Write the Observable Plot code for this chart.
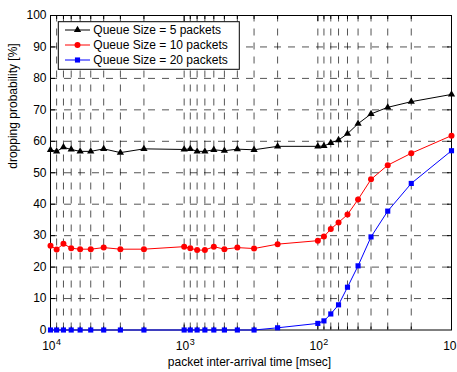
<!DOCTYPE html>
<html><head><meta charset="utf-8">
<script src="https://cdn.jsdelivr.net/npm/d3@7"></script>
<script src="https://cdn.jsdelivr.net/npm/@observablehq/plot@0.6"></script>
<style>body{margin:0;background:#fff}</style>
</head><body><div id="chart"></div>
<script>
// packet inter-arrival time [msec] (axis runs from 10^4 down to 10^1)
const interArrival = [10000,9000,8000,7000,6000,5000,4000,3000,2000,1000,900,800,700,600,500,400,300,200,100,90,80,70,60,50,40,30,20,10];
// dropping probability [%]
const q5  = [57.3,56.8,58.1,57.4,56.8,56.8,57.6,56.4,57.6,57.4,57.6,56.8,56.8,57.3,57.0,57.5,57.3,58.4,58.4,58.5,59.5,60.4,62.4,65.6,68.7,70.8,72.6,74.9];
const q10 = [26.8,25.6,27.4,26.0,25.7,25.7,26.2,25.7,25.7,26.5,26.0,25.4,25.4,26.5,25.7,26.2,25.9,27.3,28.4,29.7,32.1,34.2,36.7,41.5,47.9,52.4,56.2,61.8];
const q20 = [0,0,0,0,0,0,0,0,0,0,0,0,0,0,0,0,0,0.7,2.1,2.9,5.1,8.0,13.6,20.4,29.6,37.8,46.6,57.0];

const seriesNames = ["Queue Size = 5 packets", "Queue Size = 10 packets", "Queue Size = 20 packets"];
const seriesColors = ["#000000", "#ff0000", "#0000ff"];
const seriesSymbols = ["triangle", "circle", "square"];
const seriesR = [2.7, 3, 2.9];

const xMajor = [10000, 1000, 100, 10];
const xExponents = ["4", "3", "2", "1"];
const xMinor = [9000,8000,7000,6000,5000,4000,3000,2000,900,800,700,600,500,400,300,200,90,80,70,60,50,40,30,20];
const xGrid = [9000,8000,7000,6000,5000,4000,3000,2000,1000,900,800,700,600,500,400,300,200,100,90,80,70,60,50,40,30,20];
const yTicks = [0,10,20,30,40,50,60,70,80,90,100];
const yGrid = [10,20,30,40,50,60,70,80,90];
const yDomain = [0, 100];
const xDomain = [10000, 10];

const xTitle = "packet inter-arrival time [msec]";
const yTitle = "dropping probability [%]";

const seriesValues = [q5, q10, q20];
const rows = [];
seriesValues.forEach((vals, s) => vals.forEach((v, i) => rows.push({x: interArrival[i], y: v, series: seriesNames[s]})));

const margin = {left: 50, right: 6, top: 15, bottom: 42.5};
const gridStyle = {stroke: "#000", strokeOpacity: 0.85, strokeWidth: 0.8, strokeDasharray: "7,7"};
const noText = () => "";

const marks = [
  Plot.ruleY(yGrid, {y: d => d, ...gridStyle}),
  Plot.ruleX(xGrid, {x: d => d, y1: yDomain[0], y2: yDomain[1], ...gridStyle}),
  Plot.axisX(xMajor, {anchor: "bottom", tickSize: -5, tickFormat: noText, label: null}),
  Plot.axisX(xMinor, {anchor: "bottom", tickSize: -3, tickFormat: noText, label: null}),
  Plot.axisX(xMajor, {anchor: "top", tickSize: -5, tickFormat: noText, label: null}),
  Plot.axisX(xMinor, {anchor: "top", tickSize: -3, tickFormat: noText, label: null}),
  Plot.axisY(yGrid, {anchor: "left", tickSize: -5, tickFormat: noText, label: null}),
  Plot.axisY(yGrid, {anchor: "right", tickSize: -5, tickFormat: noText, label: null}),
  Plot.axisY(yTicks, {anchor: "left", tickSize: 0, tickPadding: 4, fontSize: 12, label: null}),
  Plot.text(xMajor, {x: d => d, text: () => "10", frameAnchor: "bottom", textAnchor: "end", lineAnchor: "bottom", dx: 5, dy: 20, fontSize: 12}),
  Plot.text(xMajor, {x: d => d, text: (d, i) => xExponents[i], frameAnchor: "bottom", textAnchor: "start", lineAnchor: "bottom", dx: 5.5, dy: 15, fontSize: 9}),
  Plot.text([xTitle], {text: d => d, frameAnchor: "bottom", lineAnchor: "bottom", dx: -1.5, dy: 35.5, fontSize: 12}),
  Plot.text([yTitle], {text: d => d, frameAnchor: "left", rotate: -90, lineAnchor: "middle", dx: -37, dy: -4, fontSize: 12}),
  Plot.frame({stroke: "#000", strokeWidth: 1})
];
seriesNames.forEach((name, s) => {
  const data = rows.filter(r => r.series === name);
  marks.push(Plot.line(data, {x: "x", y: "y", stroke: seriesColors[s], strokeWidth: 1}));
  marks.push(Plot.dot(data, {x: "x", y: "y", fill: seriesColors[s], symbol: seriesSymbols[s], r: seriesR[s], stroke: "none"}));
});

const chart = Plot.plot({
  width: 457, height: 372,
  marginLeft: margin.left, marginRight: margin.right, marginTop: margin.top, marginBottom: margin.bottom,
  x: {type: "log", domain: xDomain, axis: null},
  y: {domain: yDomain, axis: null},
  style: {fontFamily: "'Liberation Sans', Arial, sans-serif", fontSize: "12px", background: "#fff", color: "#000"},
  marks
});

// legend (box in the upper-left of the plot area)
const svg = d3.select(chart);
const lg = svg.append("g").attr("transform", `translate(${margin.left + 8.3},${margin.top + 6.7})`);
lg.append("rect").attr("width", 181).attr("height", 47.6).attr("fill", "#fff").attr("stroke", "#000").attr("stroke-width", 1);
const symMap = {triangle: d3.symbolTriangle, circle: d3.symbolCircle, square: d3.symbolSquare};
seriesNames.forEach((name, s) => {
  const cy = 8.3 + s * 15;
  lg.append("line").attr("x1", 6.7).attr("x2", 31.7).attr("y1", cy).attr("y2", cy).attr("stroke", seriesColors[s]).attr("stroke-width", 1);
  lg.append("path").attr("d", d3.symbol(symMap[seriesSymbols[s]], Math.PI * seriesR[s] * seriesR[s])())
    .attr("transform", `translate(19.2,${cy})`).attr("fill", seriesColors[s]);
  lg.append("text").attr("x", 35).attr("y", cy).attr("dy", "0.35em").attr("text-anchor", "start")
    .attr("font-size", 12).attr("fill", "#000").text(name);
});

document.getElementById("chart").appendChild(chart);
</script>
</body></html>
